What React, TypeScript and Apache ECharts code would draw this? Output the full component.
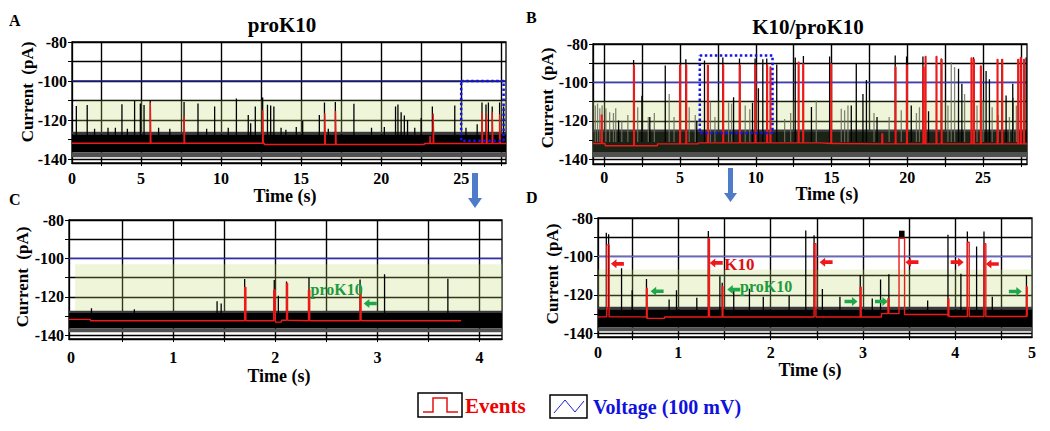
import React, { useEffect, useRef } from "react";
import * as echarts from "echarts";

const FONT = "'Liberation Serif', 'Times New Roman', serif";

// ---------- shared y axis ----------
const Y_TICKS = [-140, -130, -120, -110, -100, -90, -80];
const Y_LABELS = [-140, -120, -100, -80];
const VOLTAGE = -100;

// ---------- Panel A : proK10 ----------
const A_X = [0.69, 27.8];
const A_Y = [-142, -80];
const A_XGRID = [2.5, 5, 7.5, 10, 12.5, 15, 17.5, 20, 22.5, 25, 27.5];
const A_XLAB = [0.69, 5, 10, 15, 20, 25];
const A_XTXT = ["0", "5", "10", "15", "20", "25"];
const NOISE_A = [-139, -136.5, -127.3, -126];
const GREEN_A = [0.95, -110];
const BOX_A = [25.0, 27.65, -130.6, -100];
const SPIKES_A = [
  [0.96, -112.8], [1.64, -112.3], [2.1, -124.5], [2.94, -123.9], [3.4, -124], [3.81, -111.9],
  [4.15, -124.5], [4.6, -110.2], [4.96, -111.5], [5.19, -112.3], [5.58, -109.7], [6.1, -124],
  [6.8, -124.5], [7.69, -110.7], [8.56, -111.5], [9.1, -124.5], [9.6, -113], [10.45, -124],
  [10.96, -108.9], [11.7, -117.4], [11.85, -121.6], [12.14, -113], [12.6, -108.5], [12.9, -112.2],
  [13.1, -112.6], [13.3, -113], [13.75, -124], [14.05, -125], [14.7, -123.5], [15.1, -120.5],
  [16.14, -117.4], [16.46, -111], [16.7, -124.5], [17.14, -110.8], [18.3, -111.6], [19.4, -124],
  [20.2, -123.5], [20.9, -113], [21.05, -112], [21.25, -116], [21.45, -117.6], [21.65, -120],
  [22.1, -124], [22.5, -119], [23.2, -113], [24.6, -112.5], [25.3, -124], [26.0, -122.2],
  [26.3, -111], [26.55, -112], [26.7, -111], [26.94, -113], [27.4, -111], [27.65, -113],
];
const EVENTS_A = [
  [5.58, -111, 0.04], [7.69, -118, 0.04], [12.6, -114.8, 0.04], [16.48, -116.5, 0.04],
  [17.15, -115.3, 0.04], [23.05, -128, 0.03], [23.25, -116.6, 0.04], [26.3, -116.3, 0.04],
  [26.58, -117, 0.04], [26.94, -116, 0.04], [27.4, -117, 0.04],
];
const STEPS_A = [[0.69, -131.9], [12.7, -132.5], [22.7, -132.0]];
const RED_END_A = 27.8;

// ---------- Panel B : K10/proK10 ----------
const B_X = [-0.75, 27.9];
const B_Y = [-142.5, -80];
const B_XGRID = [0, 2.5, 5, 7.5, 10, 12.5, 15, 17.5, 20, 22.5, 25, 27.5];
const B_XLAB = [0, 5, 10, 15, 20, 25];
const B_XTXT = ["0", "5", "10", "15", "20", "25"];
const NOISE_B = [-139, -136.3, -125.8, -124.5];
const GREEN_B = [-0.75, -110];
const BOX_B = [6.3, 11.1, -126.4, -86];
const SPIKES_B = [
  [0.94, -119.8], [1.93, -88.3], [2.48, -107], [3.0, -118], [4.02, -91.2], [5.38, -88],
  [6.1, -120], [6.61, -88.6], [7.82, -87], [8.53, -107.7], [8.92, -87.5], [9.78, -110.6],
  [9.95, -87.5], [10.17, -103], [10.46, -88], [10.72, -87.5], [11.38, -90.7], [12.6, -87],
  [13.14, -86.3], [13.67, -112.8], [14.87, -86.5], [16.3, -112], [16.63, -90], [17.07, -106],
  [17.3, -98.7], [18.0, -118], [19.2, -86], [19.95, -86.5], [20.26, -112], [21.03, -86.5],
  [21.4, -115], [22.24, -87.6], [23.38, -92.9], [23.6, -100.7], [24.37, -86.9], [25.2, -94],
  [25.42, -98.3], [26.24, -88], [26.52, -106.8], [26.96, -100.7], [27.47, -87.5], [27.68, -88],
  [27.84, -87],
];
const GRAY_B = [
  [-0.6, -112], [-0.45, -111], [-0.3, -113.5], [-0.15, -112], [0.1, -113.5], [0.35, -115.5],
  [0.6, -116], [0.75, -113.4], [1.15, -120], [1.55, -117], [2.2, -113], [2.9, -118], [3.3, -116],
  [4.28, -106], [4.6, -118], [5.6, -113], [6.0, -117], [7.0, -110], [7.3, -118], [8.2, -110.5],
  [8.4, -111], [9.3, -112], [9.6, -114], [11.9, -119], [12.3, -116], [13.99, -109.4],
  [15.64, -113.7], [15.86, -114.5], [16.08, -112], [17.8, -116], [18.8, -118], [19.6, -114.5],
  [20.6, -116], [20.8, -113], [22.68, -112], [22.9, -89.4], [23.12, -92], [23.78, -106],
  [24.6, -112], [25.0, -110], [25.6, -113], [26.0, -117], [26.74, -118], [27.0, -108], [27.2, -112],
];
const EVENTS_B = [
  [-0.2, -117, 0.05], [1.93, -91.2, 0.05], [4.97, -91, 0.05], [5.38, -91, 0.05], [6.81, -91, 0.05],
  [7.82, -91, 0.05], [8.92, -91, 0.05], [9.95, -91, 0.05], [10.72, -91, 0.05], [10.94, -92, 0.05],
  [12.8, -89.5, 0.05], [13.1, -90.3, 0.05], [14.95, -90.3, 0.05], [18.32, -126.7, 0.05],
  [19.2, -92, 0.05], [19.95, -91, 0.05], [21.03, -92, 0.05], [21.18, -86.5, 0.05],
  [21.9, -86.5, 0.05], [22.24, -88, 0.05], [24.21, -87.3, 0.05], [24.37, -88, 0.05],
  [24.83, -91.4, 0.05], [25.93, -88, 0.05], [26.24, -88, 0.05], [27.29, -88, 0.05],
  [27.47, -87, 0.05], [27.68, -88, 0.05],
];
const STEPS_B = [[-0.75, -131.8], [0.05, -133], [3.5, -132], [6.2, -131.5], [14.3, -131.8], [15.3, -132]];
const RED_END_B = 27.9;

// ---------- Panel C : proK10 zoom ----------
const C_X = [-0.02, 4.22];
const C_Y = [-142, -80];
const C_XGRID = [0.5, 1, 1.5, 2, 2.5, 3, 3.5, 4];
const C_XLAB = [0, 1, 2, 3, 4];
const C_XTXT = ["0", "1", "2", "3", "4"];
const NOISE_C = [-138.5, -136.5, -128.5, -127.3];
const GREEN_C = [0.04, -103];
const SPIKES_C = [
  [0.2, -126], [0.62, -126.5], [1.43, -122.3], [1.47, -123.5], [1.7, -110.8], [1.99, -111.3],
  [2.03, -119.5], [2.11, -112], [2.33, -110], [2.83, -111], [3.07, -108.3], [3.69, -110.6],
];
const EVENTS_C = [
  [1.7, -115.1, 0.012], [1.985, -116.5, 0.015], [2.11, -113, 0.01], [2.325, -116.5, 0.012], [2.83, -115.5, 0.01],
];
const STEPS_C = [[-0.02, -131.8], [0.19, -132.5], [2.0, -133.2], [2.06, -132.2], [2.12, -132.5]];
const RED_END_C = 3.82;
const GREEN_ARROWS_C = [[2.93, -123.5, -1]];
const NOTES_C = [["proK10", 2.6, -116]];

// ---------- Panel D : K10/proK10 zoom ----------
const D_X = [0.13, 4.83];
const D_Y = [-142, -80];
const D_XGRID = [0.5, 1, 1.5, 2, 2.5, 3, 3.5, 4, 4.5];
const D_XLAB = [0.13, 1, 2, 3, 4, 4.83];
const D_XTXT = ["0", "1", "2", "3", "4", "5"];
const NOISE_D = [-139, -137, -127.5, -126.2];
const GREEN_D = [0.13, -106.8];
const SPIKES_D = [
  [0.22, -87.7], [0.245, -88.5], [0.385, -106.2], [0.5, -117.7], [0.655, -111.8], [0.9, -122.5],
  [0.98, -117.7], [1.2, -121.5], [1.325, -86.8], [1.45, -110.4], [1.475, -113.8], [1.6, -117],
  [1.77, -116.9], [1.92, -121], [2.2, -120.5], [2.38, -86.5], [2.47, -89], [2.56, -117],
  [2.75, -121], [2.97, -109.7], [3.1, -122], [3.19, -112], [3.28, -109.3], [3.7, -123],
  [3.92, -88.7], [4.06, -109.1], [4.13, -87], [4.23, -94.8], [4.31, -87], [4.4, -121], [4.77, -109.7],
];
const EVENTS_D = [
  [0.225, -94, 0.025], [0.655, -116.6, 0.008], [1.325, -90.8, 0.012], [1.475, -115.6, 0.008],
  [2.47, -93.4, 0.02], [2.97, -116, 0.01], [3.27, -122, 0.01], [3.39, -90.5, 0.06],
  [3.92, -122, 0.01], [4.13, -92.6, 0.02], [4.31, -93.4, 0.02], [4.77, -115.8, 0.008],
];
const STEPS_D = [[0.13, -131.5], [0.655, -132.3], [0.85, -131.6], [3.2, -129.8], [3.45, -130.3], [3.92, -131.3]];
const RED_END_D = 4.78;
const CAPS_D = [[3.39, 3.45, -88.7]];
const RED_ARROWS_D = [[0.34, -103.9, -1], [1.41, -103.4, -1], [2.6, -103, -1], [3.53, -103, -1], [4.02, -103, 1], [4.4, -104, -1]];
const GREEN_ARROWS_D = [[0.77, -118.2, -1], [1.6, -117.3, -1], [2.87, -123.5, 1], [3.2, -123.5, 1], [4.65, -118.3, 1]];
const NOTES_D = [["K10", 1.66, -104.2, "red"], ["proK10", 1.95, -115.6, "green"]];

// ---------- builders ----------
const LEFT_ARROW = "path://M0,5 L6,0 L6,3 L14,3 L14,7 L6,7 L6,10 Z";
const RIGHT_ARROW = "path://M14,5 L8,0 L8,3 L0,3 L0,7 L8,7 L8,10 Z";
const RED = "#ee1a1a";
const GREEN = "#1fa84a";

function spikeData(spikes: number[][], base: number) {
  const d: any[] = [];
  spikes.slice().sort((a, b) => a[0] - b[0]).forEach(([t, p]) => {
    d.push([t, base], [t, p], [t, "-"]);
  });
  return d;
}

function eventData(events: number[][], steps: number[][], end: number) {
  const items: any[] = [
    ...steps.map((s) => ({ t: s[0], k: "s", v: s[1] })),
    ...events.map((e) => ({ t: e[0], k: "e", p: e[1], w: e[2] })),
  ].sort((a, b) => a.t - b.t);
  let base = steps[0][1];
  const d: number[][] = [];
  for (const it of items) {
    if (it.k === "s") {
      d.push([it.t, base]);
      base = it.v;
      d.push([it.t, base]);
    } else {
      d.push([it.t, base], [it.t, it.p], [it.t + it.w, it.p], [it.t + it.w, base]);
    }
  }
  d.push([end, base]);
  return d;
}

function capData(caps: number[][]) {
  const d: any[] = [];
  caps.forEach(([a, b, y]) => d.push([a, y], [b, y], [b, "-"]));
  return d;
}

function boxData(box: number[] | null) {
  if (!box) return [];
  const [x0, x1, y0, y1] = box;
  return [[x0, y1], [x1, y1], [x1, y0], [x0, y0], [x0, y1]];
}

const PANELS = [
  {
    grid: { left: 72, top: 42, width: 434, height: 121 }, x: A_X, y: A_Y, xGrid: A_XGRID, xLab: A_XLAB, xTxt: A_XTXT,
    noise: NOISE_A, green: GREEN_A, box: BOX_A, spikes: SPIKES_A, gray: [] as number[][], events: EVENTS_A,
    steps: STEPS_A, redEnd: RED_END_A, caps: [] as number[][], redArrows: [] as number[][], greenArrows: [] as number[][],
    notes: [] as any[], voltColor: "#1f1f8c", noiseCore: "#000", labelMargin: 7,
    xName: [285, 196], yName: [27, 92],
  },
  {
    grid: { left: 593, top: 44, width: 434, height: 120 }, x: B_X, y: B_Y, xGrid: B_XGRID, xLab: B_XLAB, xTxt: B_XTXT,
    noise: NOISE_B, green: GREEN_B, box: BOX_B, spikes: SPIKES_B, gray: GRAY_B, events: EVENTS_B,
    steps: STEPS_B, redEnd: RED_END_B, caps: [] as number[][], redArrows: [] as number[][], greenArrows: [] as number[][],
    notes: [] as any[], voltColor: "#3a3ad8", noiseCore: "#1b2216", labelMargin: 5,
    xName: [827, 194], yName: [547, 98],
  },
  {
    grid: { left: 69, top: 220, width: 433, height: 119 }, x: C_X, y: C_Y, xGrid: C_XGRID, xLab: C_XLAB, xTxt: C_XTXT,
    noise: NOISE_C, green: GREEN_C, box: null, spikes: SPIKES_C, gray: [] as number[][], events: EVENTS_C,
    steps: STEPS_C, redEnd: RED_END_C, caps: [] as number[][], redArrows: [] as number[][], greenArrows: GREEN_ARROWS_C,
    notes: NOTES_C.map((n) => [...n, "green"]), voltColor: "#2d2dcf", noiseCore: "#000", labelMargin: 10,
    xName: [279, 376], yName: [22, 277],
  },
  {
    grid: { left: 598, top: 218, width: 434, height: 119 }, x: D_X, y: D_Y, xGrid: D_XGRID, xLab: D_XLAB, xTxt: D_XTXT,
    noise: NOISE_D, green: GREEN_D, box: null, spikes: SPIKES_D, gray: [] as number[][], events: EVENTS_D,
    steps: STEPS_D, redEnd: RED_END_D, caps: CAPS_D, redArrows: RED_ARROWS_D, greenArrows: GREEN_ARROWS_D,
    notes: NOTES_D, voltColor: "#6464de", noiseCore: "#000", labelMargin: 7,
    xName: [810, 370], yName: [552, 274],
  },
];

function buildOption() {
  const grids: any[] = [];
  const xAxes: any[] = [];
  const yAxes: any[] = [];
  const series: any[] = [];
  const boldText = { fontFamily: FONT, fontWeight: "bold", color: "#000" };

  const txt = (text: string, x: number, y: number, size: number, fill: string, align = "left", rotation = 0) => ({
    type: "text", x, y, rotation, silent: true,
    style: { text, fill, font: `bold ${size}px ${FONT}`, textAlign: align, textVerticalAlign: "middle" },
  });
  const graphic: any[] = [];

  PANELS.forEach((p, i) => {
    grids.push({ ...p.grid, show: true, borderColor: "#000", borderWidth: 1.3, containLabel: false });
    xAxes.push({
      gridIndex: i, type: "value", min: p.x[0], max: p.x[1],
      axisLine: { show: true, onZero: false, lineStyle: { color: "#000", width: 1.3 } },
      axisTick: { show: true, customValues: p.xGrid, length: 3, lineStyle: { color: "#000" } },
      axisLabel: {
        ...boldText, fontSize: 16, margin: p.labelMargin, customValues: p.xLab,
        formatter: (v: number) => {
          let best = 0;
          p.xLab.forEach((c, k) => { if (Math.abs(c - v) < Math.abs(p.xLab[best] - v)) best = k; });
          return p.xTxt[best];
        },
      },
      splitLine: { show: true, lineStyle: { color: "#000", width: 1.4 } },
    });
    yAxes.push({
      gridIndex: i, type: "value", min: p.y[0], max: p.y[1],
      axisLine: { show: true, onZero: false, lineStyle: { color: "#000", width: 1.3 } },
      axisTick: { show: true, customValues: Y_TICKS, length: 4, lineStyle: { color: "#000" } },
      axisLabel: { ...boldText, fontSize: 16, margin: 5, customValues: Y_LABELS },
      splitLine: { show: true, lineStyle: { color: "#000", width: 1.4 } },
    });
    graphic.push(txt("Time (s)", p.xName[0], p.xName[1], 18, "#000", "center"));
    graphic.push(txt("Current  (pA)", p.yName[0], p.yName[1], 17, "#000", "center", Math.PI / 2));

    const [fLow, cLow, cHigh, fHigh] = p.noise;
    const noiseMid = (cLow + cHigh) / 2;
    const markers: any[] = [];
    p.redArrows.forEach(([t, y, dir]) => markers.push({
      coord: [t, y], symbol: dir < 0 ? LEFT_ARROW : RIGHT_ARROW, symbolSize: [13, 9], itemStyle: { color: RED },
    }));
    p.greenArrows.forEach(([t, y, dir]) => markers.push({
      coord: [t, y], symbol: dir < 0 ? LEFT_ARROW : RIGHT_ARROW, symbolSize: [13, 9], itemStyle: { color: GREEN },
    }));
    p.notes.forEach(([text, t, y, kind]: any) => markers.push({
      coord: [t, y], symbol: "rect", symbolSize: 1, itemStyle: { color: "rgba(0,0,0,0)" },
      label: {
        show: true, position: "inside", formatter: text, fontFamily: FONT, fontWeight: "bold",
        fontSize: kind === "red" ? 17 : 16, color: kind === "red" ? "#e01010" : "#1f9a3c",
      },
    }));

    series.push({
      type: "line", xAxisIndex: i, yAxisIndex: i, silent: true, symbol: "none", z: 2,
      data: [[p.x[0], VOLTAGE], [p.x[1], VOLTAGE]],
      lineStyle: { color: p.voltColor, width: 1.4 },
      markArea: {
        silent: true,
        data: [
          [{ xAxis: p.green[0], yAxis: p.green[1], itemStyle: { color: "rgba(190,215,110,0.26)" } }, { xAxis: p.x[1], yAxis: fHigh }],
          [{ yAxis: fHigh, itemStyle: { color: "#3a3a3a" } }, { yAxis: cHigh }],
          [{ yAxis: cHigh, itemStyle: { color: p.noiseCore } }, { yAxis: cLow }],
          [{ yAxis: cLow, itemStyle: { color: "#505050" } }, { yAxis: fLow }],
        ],
      },
      markPoint: { silent: true, label: { show: false }, data: markers },
    });
    if (p.gray.length) {
      series.push({
        type: "line", xAxisIndex: i, yAxisIndex: i, silent: true, symbol: "none", z: 3,
        data: spikeData(p.gray, noiseMid), connectNulls: false,
        lineStyle: { color: "rgba(110,112,95,0.85)", width: 1.3 },
      });
    }
    series.push({
      type: "line", xAxisIndex: i, yAxisIndex: i, silent: true, symbol: "none", z: 3,
      data: spikeData(p.spikes, noiseMid), connectNulls: false,
      lineStyle: { color: "#000", width: 1.3 },
    });
    if (p.caps.length) {
      series.push({
        type: "line", xAxisIndex: i, yAxisIndex: i, silent: true, symbol: "none", z: 3,
        data: capData(p.caps), connectNulls: false,
        lineStyle: { color: "#000", width: 8, cap: "butt" },
      });
    }
    series.push({
      type: "line", xAxisIndex: i, yAxisIndex: i, silent: true, symbol: "none", z: 4,
      data: eventData(p.events, p.steps, p.redEnd),
      lineStyle: { color: RED, width: 1.4 },
    });
    if (p.box) {
      series.push({
        type: "line", xAxisIndex: i, yAxisIndex: i, silent: true, symbol: "none", z: 5,
        data: boxData(p.box),
        lineStyle: { color: "#1414e6", width: 2.5, type: "dotted" },
      });
    }
  });

  graphic.push(
    txt("A", 9, 20, 16, "#000"),
    txt("B", 526, 17, 16, "#000"),
    txt("C", 9, 199, 16, "#000"),
    txt("D", 526, 197, 16, "#000"),
    txt("proK10", 282, 25, 21, "#000", "center"),
    txt("K10/proK10", 808, 27, 21, "#000", "center"),
    {
      type: "polygon", silent: true,
      shape: { points: [[472, 173], [478, 173], [478, 198], [482, 198], [475, 208], [468, 198], [472, 198]] },
      style: { fill: "#4f7cc8" },
    },
    {
      type: "polygon", silent: true,
      shape: { points: [[728, 168], [733, 168], [733, 193], [737, 193], [730.5, 202], [724, 193], [728, 193]] },
      style: { fill: "#4f7cc8" },
    },
    {
      type: "rect", silent: true, shape: { x: 418, y: 393, width: 44, height: 24 },
      style: { fill: "#fff", stroke: "#000", lineWidth: 1.5 },
    },
    {
      type: "polyline", silent: true,
      shape: { points: [[423, 412], [433, 412], [433, 398], [447, 398], [447, 412], [458, 412]] },
      style: { stroke: "#e41010", lineWidth: 1.5, fill: "none" },
    },
    txt("Events", 465, 406, 21, "#ee0000"),
    {
      type: "rect", silent: true, shape: { x: 550, y: 395, width: 37, height: 23 },
      style: { fill: "#fff", stroke: "#000", lineWidth: 1.5 },
    },
    {
      type: "polyline", silent: true,
      shape: { points: [[554, 413], [565, 400], [575, 412], [584, 401]] },
      style: { stroke: "#2020d0", lineWidth: 1, fill: "none" },
    },
    txt("Voltage (100 mV)", 593, 407, 20, "#1111dd"),
  );

  return {
    animation: false,
    backgroundColor: "#fff",
    textStyle: { fontFamily: FONT },
    grid: grids,
    xAxis: xAxes,
    yAxis: yAxes,
    series,
    graphic,
  };
}

export default function App() {
  const ref = useRef<HTMLDivElement>(null);
  useEffect(() => {
    if (!ref.current) return;
    const chart = echarts.init(ref.current, undefined, { renderer: "svg" });
    chart.setOption(buildOption() as any);
    return () => chart.dispose();
  }, []);
  return (
    <div
      ref={ref}
      style={{ position: "fixed", left: 0, top: 0, width: 1050, height: 431, background: "#fff" }}
    />
  );
}
